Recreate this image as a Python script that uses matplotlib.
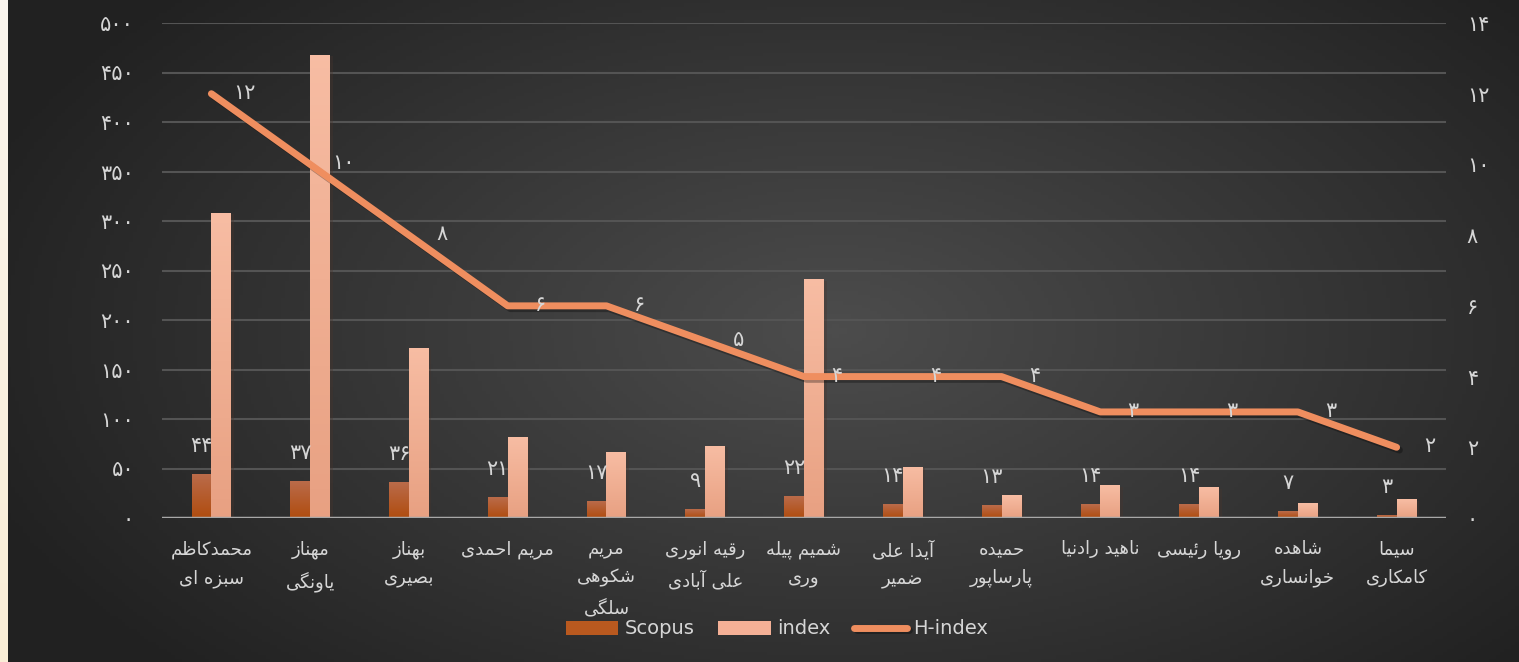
import numpy as np
import matplotlib
matplotlib.use("Agg")
import matplotlib.pyplot as plt
from matplotlib import patheffects as pe
from matplotlib.ticker import FuncFormatter, MultipleLocator

# data
names = [
    "محمدکاظم\nسبزه ای",
    "مهناز\nیاونگی",
    "بهناز\nبصیری",
    "مریم احمدی",
    "مریم\nشکوهی\nسلگی",
    "رقیه انوری\nعلی آبادی",
    "شمیم پیله\nوری",
    "آیدا علی\nضمیر",
    "حمیده\nپارساپور",
    "ناهید رادنیا",
    "رویا رئیسی",
    "شاهده\nخوانساری",
    "سیما\nکامکاری",
]
scopus = [44, 37, 36, 21, 17, 9, 22, 14, 13, 14, 14, 7, 3]
index_vals = [308, 468, 172, 82, 67, 73, 241, 52, 23, 33, 31, 15, 19]
h_index = [12, 10, 8, 6, 6, 5, 4, 4, 4, 3, 3, 3, 2]

# matplotlib has no arabic shaping, so pick presentation forms by hand
FORMS = {
    "ا": ("\uFE8D", "\uFE8E", None, None),
    "آ": ("\uFE81", "\uFE82", None, None),
    "ب": ("\uFE8F", "\uFE90", "\uFE91", "\uFE92"),
    "پ": ("\uFB56", "\uFB57", "\uFB58", "\uFB59"),
    "ح": ("\uFEA1", "\uFEA2", "\uFEA3", "\uFEA4"),
    "خ": ("\uFEA5", "\uFEA6", "\uFEA7", "\uFEA8"),
    "د": ("\uFEA9", "\uFEAA", None, None),
    "ر": ("\uFEAD", "\uFEAE", None, None),
    "ز": ("\uFEAF", "\uFEB0", None, None),
    "س": ("\uFEB1", "\uFEB2", "\uFEB3", "\uFEB4"),
    "ش": ("\uFEB5", "\uFEB6", "\uFEB7", "\uFEB8"),
    "ص": ("\uFEB9", "\uFEBA", "\uFEBB", "\uFEBC"),
    "ض": ("\uFEBD", "\uFEBE", "\uFEBF", "\uFEC0"),
    "ظ": ("\uFEC5", "\uFEC6", "\uFEC7", "\uFEC8"),
    "ع": ("\uFEC9", "\uFECA", "\uFECB", "\uFECC"),
    "ق": ("\uFED5", "\uFED6", "\uFED7", "\uFED8"),
    "ک": ("\uFB8E", "\uFB8F", "\uFB90", "\uFB91"),
    "گ": ("\uFB92", "\uFB93", "\uFB94", "\uFB95"),
    "ل": ("\uFEDD", "\uFEDE", "\uFEDF", "\uFEE0"),
    "م": ("\uFEE1", "\uFEE2", "\uFEE3", "\uFEE4"),
    "ن": ("\uFEE5", "\uFEE6", "\uFEE7", "\uFEE8"),
    "ه": ("\uFEE9", "\uFEEA", "\uFEEB", "\uFEEC"),
    "و": ("\uFEED", "\uFEEE", None, None),
    "ی": ("\uFBFC", "\uFBFD", "\uFBFE", "\uFBFF"),
    "ئ": ("\uFE89", "\uFE8A", "\uFE8B", "\uFE8C"),
}


def shape(text):
    lines = []
    for line in text.split("\n"):
        res = []
        for i, c in enumerate(line):
            if c not in FORMS:
                res.append(c)
                continue
            prev = line[i - 1] if i > 0 else None
            nxt = line[i + 1] if i + 1 < len(line) else None
            join_prev = prev in FORMS and FORMS[prev][2] is not None
            join_next = FORMS[c][2] is not None and nxt in FORMS
            iso, fin, ini, med = FORMS[c]
            if join_prev and join_next:
                res.append(med)
            elif join_prev:
                res.append(fin)
            elif join_next:
                res.append(ini)
            else:
                res.append(iso)
        lines.append("".join(reversed(res)))
    return "\n".join(lines)


FA = str.maketrans("0123456789", "۰۱۲۳۴۵۶۷۸۹")


def fa(v):
    return str(int(v)).translate(FA)


txt_col = "#d6d6d6"
plt.rcParams["font.family"] = ["DejaVu Sans"]

fig = plt.figure(figsize=(15.19, 6.62), dpi=100, facecolor="#262626")
W, H = 1519, 662

# background: dark radial gradient + thin cream strip on the left
bg = fig.add_axes([0, 0, 1, 1], zorder=-10)
yy, xx = np.mgrid[0:1:200j, 0:1:400j]
r = np.sqrt(((xx - 0.55) / 0.6) ** 2 + ((yy - 0.5) / 0.75) ** 2)
val = np.clip(1 - r, 0, 1)
bgimg = 0.13 + 0.17 * val
bg.imshow(np.dstack([bgimg] * 3), extent=[0, 1, 0, 1], aspect="auto", origin="lower")
strip = np.linspace(0, 1, 50)[:, None]
strip_col = np.dstack([np.full_like(strip, 0.98),
                       0.96 - 0.03 * strip,
                       0.93 - 0.09 * strip])
bg.imshow(strip_col, extent=[0, 8 / W, 0, 1], aspect="auto", origin="upper")
bg.set_xlim(0, 1)
bg.set_ylim(0, 1)
bg.axis("off")

ax = fig.add_axes([162 / W, 144 / H, 1284 / W, 495 / H])
ax.set_facecolor("none")
ax2 = ax.twinx()

x = np.arange(len(names))
w = 0.2

shadow = [pe.SimplePatchShadow(offset=(2, -1), alpha=0.35), pe.Normal()]


def grad_bars(bars, top, bot):
    for b in bars:
        b.set_path_effects(shadow)
        x0, y0 = b.get_x(), b.get_y()
        g = np.linspace(0, 1, 64)[:, None]
        cols = np.array(top)[None, None, :] * (1 - g[..., None]) + np.array(bot)[None, None, :] * g[..., None]
        im = ax.imshow(cols, extent=[x0, x0 + b.get_width(), y0, y0 + b.get_height()],
                       aspect="auto", origin="upper", zorder=2.1)
        im.set_clip_path(b)


b1 = ax.bar(x - w / 2, scopus, w, color="#b9591f", zorder=2, label="Scopus")
b2 = ax.bar(x + w / 2, index_vals, w, color="#f4b096", zorder=2, label="index")
grad_bars(b1, (0.73, 0.42, 0.29), (0.69, 0.30, 0.06))
grad_bars(b2, (0.97, 0.74, 0.64), (0.91, 0.63, 0.51))

for xi, v in zip(x, scopus):
    ax.annotate(fa(v), (xi - w / 2, v), xytext=(0, 28), textcoords="offset pixels",
                ha="center", va="center", color=txt_col, fontsize=15, zorder=5)

ln, = ax2.plot(x, h_index, color="#ef8e5f", lw=5, solid_capstyle="round",
               solid_joinstyle="round", label="H-index", zorder=4)
ln.set_path_effects([pe.SimpleLineShadow(offset=(2, -2), alpha=0.3), pe.Normal()])
for xi, v in zip(x, h_index):
    ax2.annotate(fa(v), (xi, v), xytext=(33, 1), textcoords="offset pixels",
                 ha="center", va="center", color=txt_col, fontsize=15, zorder=5)

ax.set_xlim(-0.5, len(names) - 0.5)
ax.set_ylim(0, 500)
ax2.set_ylim(0, 14)
ax.yaxis.set_major_locator(MultipleLocator(50))
ax2.yaxis.set_major_locator(MultipleLocator(2))
ax.yaxis.set_major_formatter(FuncFormatter(lambda v, p: fa(v)))
ax2.yaxis.set_major_formatter(FuncFormatter(lambda v, p: fa(v)))
ax.tick_params(axis="y", length=0, pad=20, labelsize=15, labelcolor=txt_col)
ax2.tick_params(axis="y", length=0, pad=15, labelsize=15, labelcolor=txt_col)
ax.set_xticks(x)
ax.set_xticklabels([shape(n) for n in names], fontsize=13, color=txt_col, linespacing=1.75)
ax.tick_params(axis="x", length=0, pad=16)

ax.grid(axis="y", color="#545454", lw=1.5, zorder=0)
ax.set_axisbelow(True)
for a in (ax, ax2):
    for s in a.spines.values():
        s.set_visible(False)
ax.axhline(0, color="#a8a8a8", lw=2.5, zorder=3)

leg = fig.legend(handles=[b1, b2, ln], loc="center", bbox_to_anchor=(777 / W, 1 - 629 / H),
                 ncol=3, frameon=False, fontsize=14, handlelength=2.7, handleheight=0.75,
                 handletextpad=0.35, columnspacing=1.2, labelcolor=txt_col)
for h in leg.legend_handles[:2]:
    h.set_path_effects([])

fig.savefig("out.png", dpi=100, facecolor=fig.get_facecolor())
